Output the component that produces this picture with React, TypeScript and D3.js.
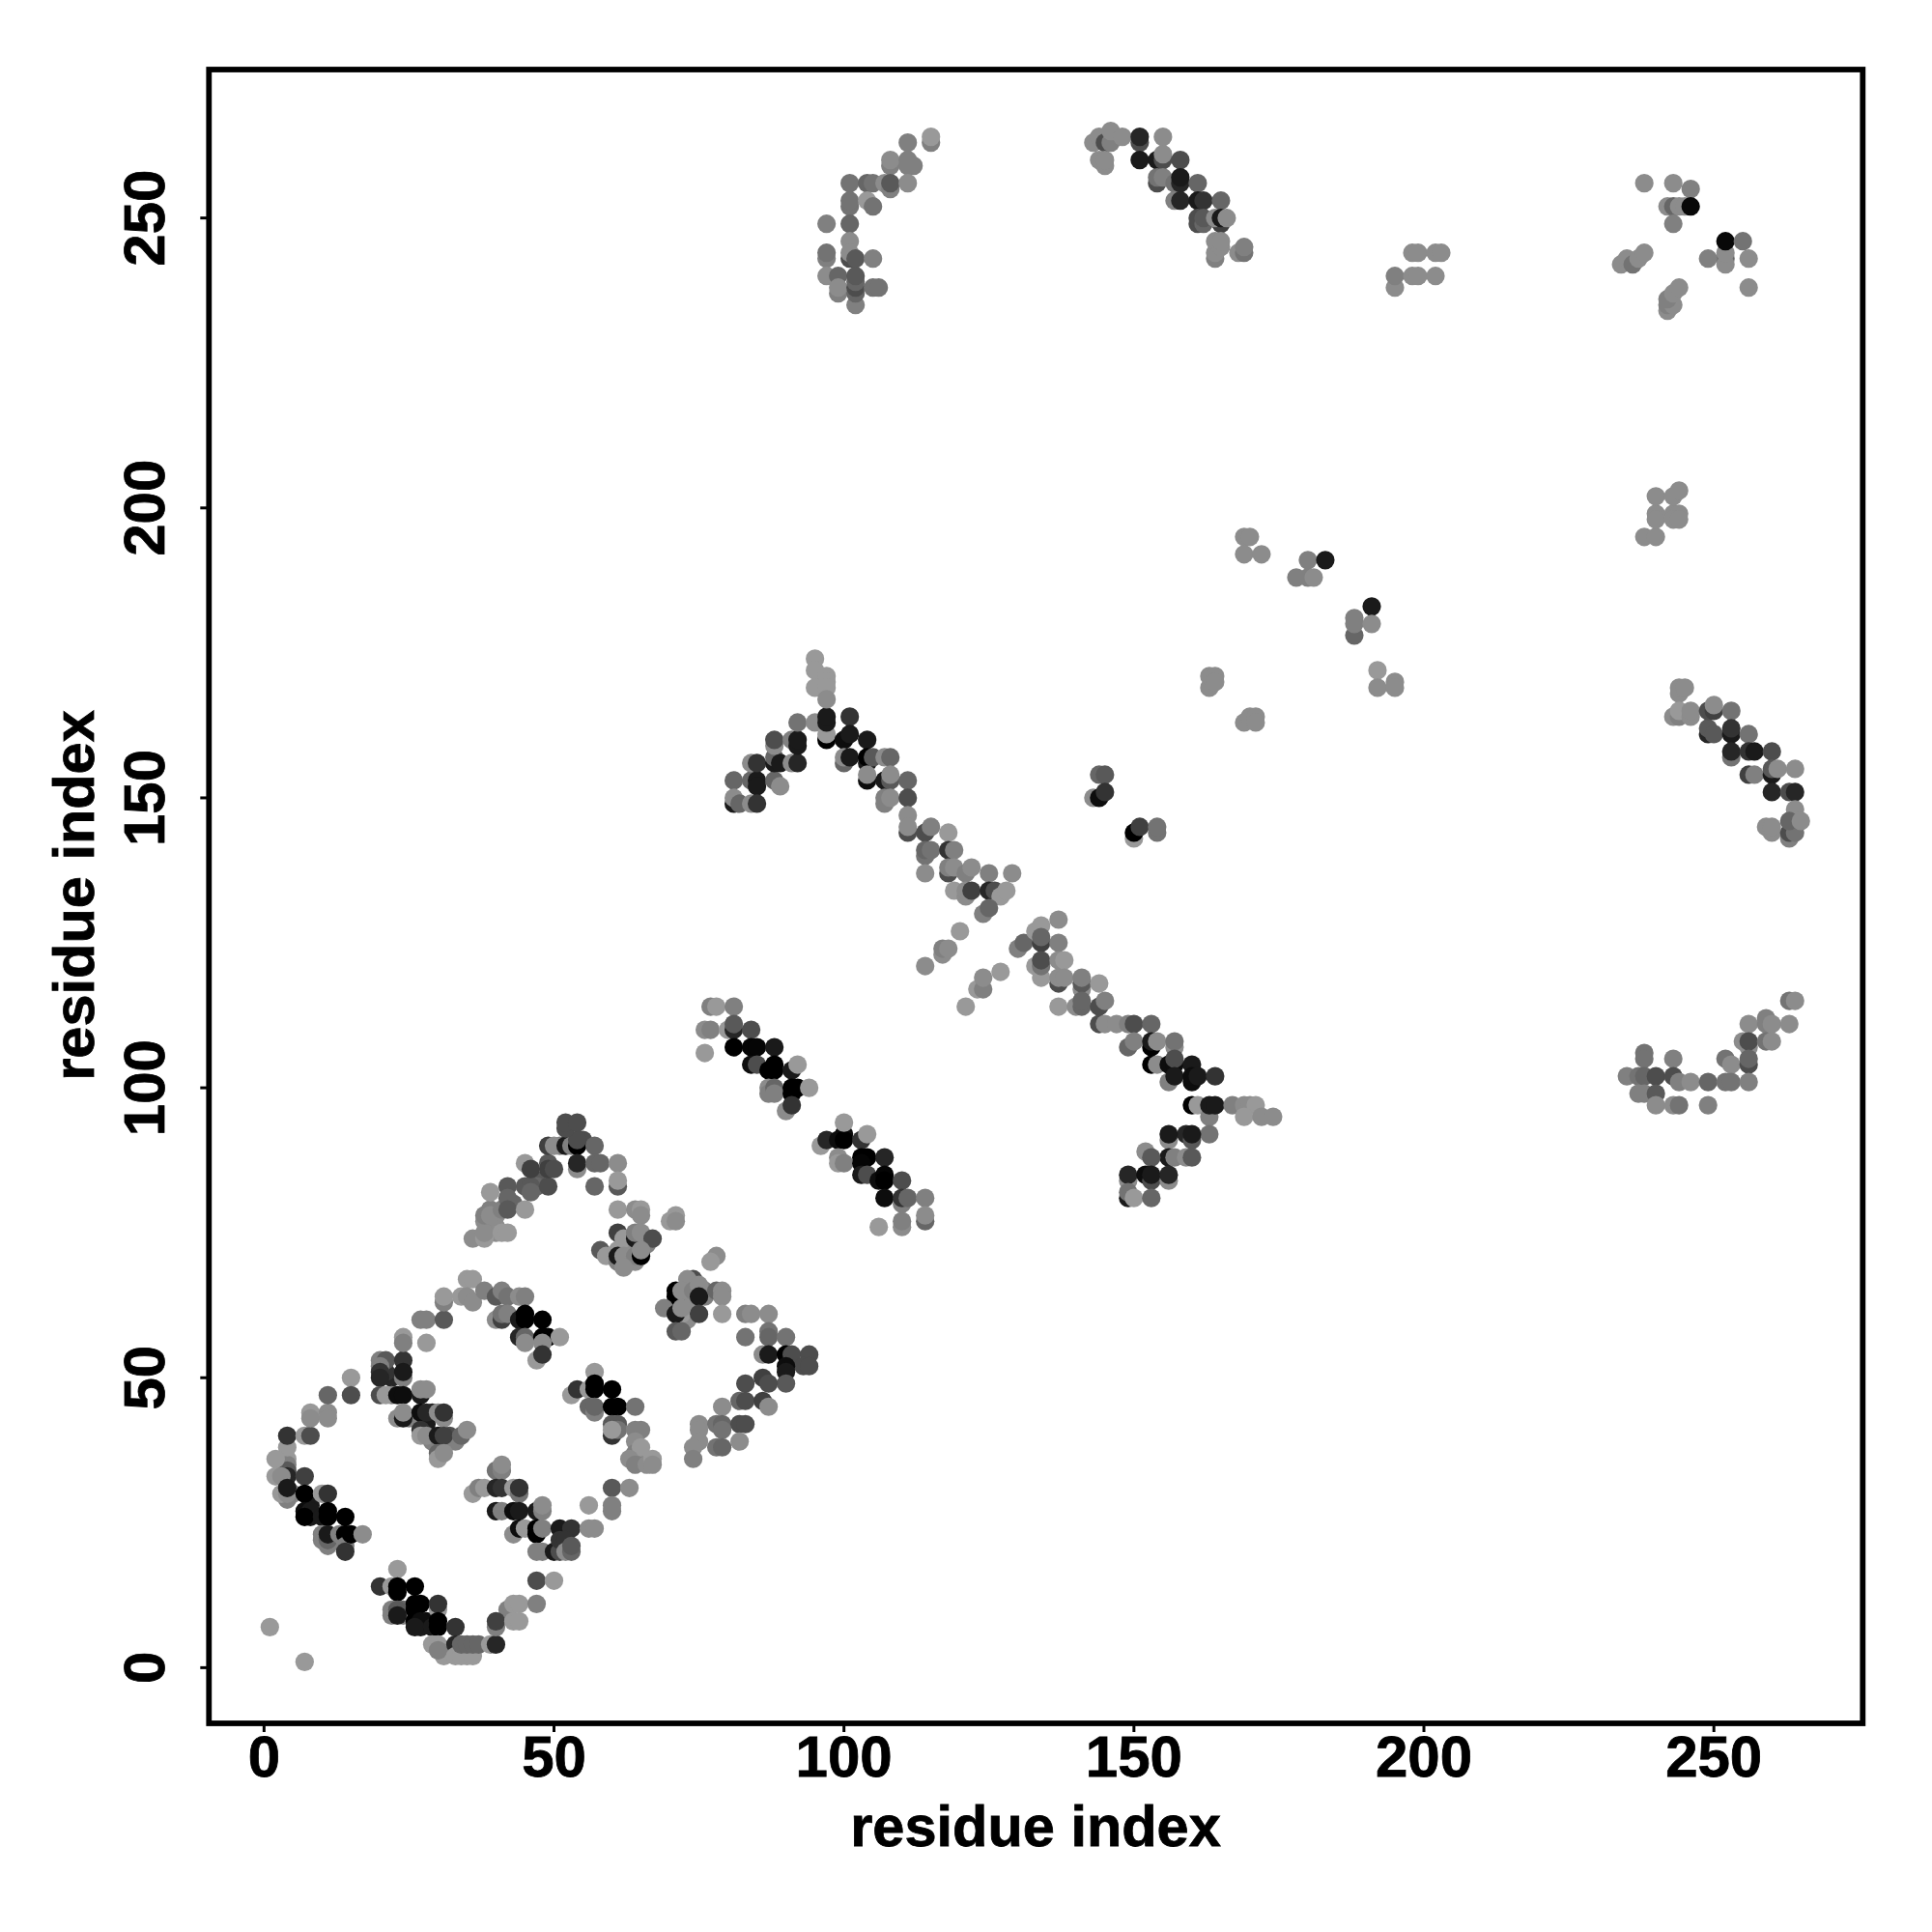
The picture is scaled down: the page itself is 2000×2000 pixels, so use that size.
import React from "react";
import * as d3 from "d3";

type P = [number, number, number];

const xTicks = [0, 50, 100, 150, 200, 250];
const yTicks = [0, 50, 100, 150, 200, 250];
const axisTitle = "residue index";

const isolated: P[] = [[1,7,.6],[7,1,.6]];

const denseUnder: P[] = [
[3,35,.55],[5,30,.55],[4,29,.5],[8,26,.1],[8,28,.1],[12,22,.45],[11,21,.5],[13,22,.5],
[24,10,.4],[24,9,.5],[27,7,.1],[28,8,.05],[32,3,.5],[31,2,.6],[35,2,.6],[33,3,.5],[42,10,.5],
[22,50,.15],[21,51,.2],[22,47,.5],[25,43,.5],[29,44,.15],[28,42,.1],[29,39,.5],[32,40,.3],[33,39,.5],[30,38,.5],
[38,77,.55],[39,79,.5],[40,78,.55],[39,76,.55],[40,76,.55],[40,75,.55],[43,80,.4],[47,84,.35],[47,83,.4],[51,90,.5],[55,91,.3],
[63,73,.5],[63,72,.55],[62,72,.55],[64,70,.55],[61,72,.6],[66,73,.5],[63,70,.55],
[73,64,.55],[73,62,.55],[72,60,.55],[73,60,.55],[72,61,.6],[76,65,.5],[76,64,.5],
[243,199,.55],[244,199,.55],[195,170,.55],[240,199,.55]];

const helixA: P[] = [
[4,36,.6],[4,35,.5],[4,34,.35],[4,33,.15],[4,38,.6],[4,40,.2],[7,40,.6],[8,40,.3],[8,44,.6],[8,43,.55],[11,44,.55],[11,43,.55],
[11,47,.4],[15,50,.6],[15,47,.3],[2,36,.6],[2,33,.6],[3,33,.55],[3,30,.6],[4,30,.55],[4,31,.1],[7,33,.25],
[7,30,0],[10,30,.6],[11,30,.2],[7,27,.05],[8,27,.1],[7,26,0],[10,26,.1],[11,27,0],[11,26,0],[14,26,0],
[10,23,.5],[10,22,.5],[11,22,.4],[11,23,.1],[13,23,.5],[14,23,0],[14,21,.5],[15,23,0],[17,23,.55],[14,20,.2]];

const helixB: P[] = [
[20,14,.2],[23,17,.6],[22,14,.6],[23,14,0],[23,13,0],[26,14,0],
[22,10,.5],[22,9,.5],[23,10,.35],[23,9,.1],[26,11,0],[27,11,0],[26,10,0],[30,10,.6],[30,11,.2],
[26,8,0],[27,8,.05],[26,7,.1],[29,7,.1],[30,8,0],[30,7,0],[33,7,.2],
[29,4,.6],[30,4,.6],[30,3,.5],[33,4,.15],[33,2,.6],[34,2,.6],[36,2,.6],[34,4,.4],[35,4,.4],[36,4,.4],[37,4,.4],[39,4,.6],[40,4,.15],
[40,7,.5],[40,8,.25],[43,11,.6],[44,11,.6],[47,11,.5],[43,8,.6],[44,8,.6],[47,15,.3],[50,15,.6]];

const helixC: P[] = [
[20,53,.5],[21,53,.35],[24,53,.2],[20,52,.5],[20,51,.2],[20,50,.15],[24,50,.5],[24,51,.1],
[24,57,.6],[24,56,.5],[28,56,.6],[27,60,.5],[28,60,.5],[31,60,.35],[31,63,.5],[31,64,.6],
[20,47,.3],[21,47,.6],[23,47,.05],[24,47,.05],[27,47,.1],[27,48,.55],[28,48,.55],
[23,43,.55],[24,43,.1],[24,44,.55],[27,44,.05],[28,44,.15],[30,44,.55],[31,43,.55],[31,44,.2],
[27,41,.2],[27,40,.6],[28,40,.55],[30,40,.1],[31,40,.25],[34,40,.4],[35,41,.55],
[30,37,.4],[30,36,.6],[31,37,.55]];

const helixD: P[] = [
[36,30,.6],[37,31,.5],[38,31,.6],[40,34,.45],[41,34,.5],[41,35,.55],[40,31,.15],[41,31,.2],[43,31,.6],[44,30,.45],[44,31,.2],
[40,27,.1],[41,27,.5],[43,27,.05],[44,27,.1],[47,27,.1],[48,27,.5],[48,28,.55],
[43,23,.55],[44,24,.05],[45,24,.6],[47,24,0],[47,23,0],[48,24,.5],[51,24,.1],[53,24,.2],
[56,28,.6],[56,24,.55],[57,24,.55],[60,31,.35],[60,27,.5],[60,28,.5],[63,31,.55],
[47,20,.5],[48,20,.5],[50,20,.1],[51,20,.3],[51,22,.2],[52,22,.2],[52,20,.55],[53,20,.4],[53,21,.35]];

const helixE: P[] = [
[35,67,.6],[36,67,.6],[34,64,.6],[35,64,.55],[36,63,.55],[38,65,.5],[40,64,.35],[41,65,.5],[42,64,.45],[44,64,.55],[45,64,.5],
[40,60,.55],[41,60,.25],[41,61,.45],[42,61,.5],[44,60,.1],[45,61,0],[45,60,0],[48,60,0],
[44,57,.15],[45,57,.4],[45,56,.55],[48,57,0],[49,57,0],[51,57,.6],[48,56,.55],[47,53,.6],[48,54,.2]];

const helixF: P[] = [
[53,47,.6],[54,48,.2],[57,51,.6],[56,48,.6],[57,49,0],[57,48,0],[60,48,0],
[56,45,.4],[57,44,.5],[57,45,.4],[60,45,0],[61,45,0],[64,45,.45],
[60,42,.35],[61,42,.35],[60,40,.2],[61,41,.45],[60,41,.6],[64,41,.5],[65,41,.5],
[64,39,.55],[64,37,.5],[65,38,.6],[63,36,.55],[64,35,.5],[66,35,.55],[67,36,.6],[67,35,.55]];

const arcG: P[] = [
[36,74,.55],[38,74,.6],[38,75,.55],[41,75,.6],[42,75,.6],[38,78,.5],[39,78,.55],[39,82,.6],
[41,79,.5],[42,83,.35],[42,81,.4],[42,79,.35],[45,79,.6],[45,83,.35],[46,83,.35],[46,82,.4],[49,83,.3],
[45,87,.6],[46,86,.25],[49,87,.35],[49,86,.25],[50,86,.3],
[49,90,.25],[50,90,.55],[52,90,.1],[53,90,.5],[54,90,0],[54,91,.3],[52,93,.3],[52,94,.3],[54,94,.3],[54,86,.55],[54,87,.15],
[57,90,.4],[57,87,.4],[58,87,.4],[61,87,.55],[57,83,.4],[61,83,.35],[61,84,.6]];

const blockH: P[] = [
[61,79,.6],[64,79,.55],[65,79,.6],[65,78,.55],[71,78,.6],[70,77,.6],[71,77,.55],
[61,75,.25],[62,74,.6],[64,74,.1],[64,75,.5],[65,75,.55],[67,74,.3],
[58,72,.35],[59,71,.6],[61,70,.5],[61,71,.1],[62,71,.55],[64,71,.5],[65,71,0],[65,72,.55],[62,69,.55]];

const blockI: P[] = [
[78,71,.55],[77,70,.6],[74,67,.3],[73,67,.55],[71,65,0],[71,64,0],[72,65,.55],[74,65,.5],[75,66,.55],[75,64,.1],[78,65,.4],[79,65,.55],[79,64,.55],
[75,61,.25],[79,61,.6],[69,62,.5],[71,61,.1],[72,62,.55],[71,58,.35],[72,58,.4],
[83,61,.5],[84,61,.55],[87,61,.55]];

const blockJ: P[] = [
[83,57,.45],[87,58,.45],[87,57,.4],[90,57,.45],[86,54,.55],[87,54,.1],[90,54,0],[91,54,.3],[94,54,.3],[93,52,.3],[94,52,.3],
[90,52,.05],[90,51,.1],[90,49,.35],[83,49,.3],[86,50,.25],[87,49,.3],
[82,46,.4],[83,46,.3],[79,45,.55],[86,46,.25],[87,45,.55],
[75,42,.55],[78,42,.45],[79,42,.4],[79,41,.45],[82,42,.3],[83,42,.3],[75,41,.55],[82,39,.55],[78,38,.45],[79,38,.4],[75,39,.55],[74,38,.55],[74,36,.5]];

const strandK: P[] = [
[77,114,.5],[78,114,.6],[81,114,.5],[76,110,.55],[77,110,.5],[80,110,.6],[81,110,.15],[81,111,.35],[84,110,.3],
[76,106,.6],[81,107,0],[84,107,.02],[85,107,.02],[88,107,.1],
[84,104,.05],[85,104,.3],[87,103,0],[88,104,0],[88,103,0],[91,103,.1],[92,104,.6],
[87,100,.55],[87,99,.5],[88,100,.4],[88,99,.5],[91,99,0],[91,100,0],[92,100,0],[94,100,.6],[90,96,.55],[91,97,.2]];

const strandL: P[] = [
[96,90,.6],[97,91,.15],[99,91,.05],[100,92,.05],[100,91,0],[100,94,.6],[103,91,.2],[104,92,.6],
[99,88,.55],[99,87,.6],[100,87,.5],[103,88,0],[104,88,0],[103,87,.02],[107,88,.15],
[103,85,.1],[104,85,.3],[106,84,.05],[107,85,.02],[107,84,0],[110,84,.3],
[107,81,.05],[110,80,.5],[110,81,.2],[111,81,.4],[114,81,.5],
[106,76,.6],[110,76,.55],[110,77,.5],[114,77,.4],[114,78,.55]];

const peakM: P[] = [
[81,153,.4],[84,153,.4],[85,153,.1],[85,152,.1],[88,153,.4],[89,152,.55],
[81,149,.1],[81,150,.55],[82,149,.4],[84,149,.55],[85,149,.2],
[84,156,.55],[85,156,.2],[88,156,.1],[88,157,.4],[89,156,.1],[91,156,.55],[92,156,.15],
[88,159,.55],[88,160,.3],[91,160,.5],[92,159,.1],[92,160,.1],[92,163,.45],
[95,163,.55],[97,160,0],[97,161,.6],[97,163,.1],[97,164,.1],[95,174,.6],[95,172,.6],[97,171,.6],[97,170,.6],[95,169,.6],[97,169,.6],[97,167,.55]];

const descentN: P[] = [
[101,164,.2],[100,160,.05],[101,161,.1],[104,160,.1],[100,156,.4],[100,157,.55],[101,157,.1],
[104,156,.1],[104,157,0],[105,157,.35],[107,157,.55],[108,157,.4],
[104,153,.05],[104,154,.55],[107,153,.1],[108,153,.35],[108,154,.55],[111,153,.4],
[107,149,.5],[107,150,.5],[108,150,.55],[111,150,.3],[111,147,.55],[111,144,.3],[111,145,.55],
[114,144,.3],[115,145,.5],[118,144,.6],[114,140,.45],[114,141,.4],[115,141,.45],[118,141,.2],[119,141,.5],
[114,137,.55],[118,137,.3],[118,138,.5],[119,138,.55],[121,137,.5],[122,138,.55],[125,137,.5],[129,137,.55],
[119,134,.6],[121,133,.55],[121,134,.55],[122,134,.25],[125,134,.15],[126,134,.3],[127,133,.6],[128,134,.6],[124,130,.5],[125,131,.4]];

const crossO: P[] = [
[120,127,.6],[117,123,.55],[117,124,.5],[118,124,.55],[114,121,.55],
[127,120,.6],[123,117,.6],[124,117,.5],[124,119,.55],[121,114,.6]];

const descentP: P[] = [
[130,124,.5],[131,125,.4],[133,127,.6],[134,128,.6],[137,129,.55],[134,125,.25],[134,126,.4],[137,125,.5],
[133,121,.6],[134,119,.6],[134,121,.45],[134,122,.3],[137,122,.55],[138,122,.6],
[137,118,.3],[137,119,.55],[138,119,.55],[141,117,.55],[141,118,.35],[141,119,.5],[144,118,.6],
[137,114,.6],[140,114,.55],[141,114,.4],[141,115,.4],[144,114,.3],[145,115,.5],
[144,111,.3],[145,111,.55],[147,111,.55],[149,111,.5],[150,111,.3],[153,111,.4],
[149,107,.4],[150,108,.5],[153,107,0],[153,108,.1],[154,108,.55],[157,107,.55],[157,108,.45],
[153,104,0],[154,104,.55],[156,104,.05],[157,104,.05],[157,105,.3],[160,104,.1],
[156,101,.5],[157,102,.1],[160,101,.05],[160,102,.05],[161,102,.1],[164,102,.2],
[160,97,0],[161,97,.6],[163,95,.5],[163,97,.1],[164,97,.1],[167,97,.5],[169,97,.55],[170,97,.55],[171,97,.6],[169,95,.6],[172,95,.55],[174,95,.55]];

const vQ: P[] = [
[163,92,.45],[159,92,.15],[160,91,.35],[160,92,.1],[156,91,.55],[156,92,.1],
[156,88,.1],[157,88,.5],[159,88,.55],[160,88,.35],[152,89,.55],[153,88,.35],
[149,84,.55],[149,85,.15],[152,85,.05],[153,84,.3],[153,85,.1],[156,84,.55],[156,85,.15],
[149,81,.1],[149,82,.45],[150,81,.6],[153,81,.4]];

const smallR: P[] = [
[144,154,.4],[145,154,.35],[143,150,.55],[144,150,.05],[145,151,.2],
[150,143,.6],[150,144,0],[151,145,.25],[154,144,.45],[154,145,.45]];

const arcS: P[] = [
[115,263,.5],[115,264,.6],[111,263,.5],[108,259,.5],[108,260,.55],[111,260,.5],[111,259,.5],[112,259,.5],
[101,256,.45],[104,256,.4],[105,256,.45],[107,256,.55],[108,255,.5],[108,256,.35],[111,256,.55],
[101,252,.45],[101,253,.45],[104,253,.6],[105,252,.45],[97,249,.5],[101,249,.4],
[101,246,.55],[97,243,.5],[97,244,.45],[101,243,.3],[101,244,.55],[102,243,.35],[105,243,.5],
[97,240,.55],[99,240,.4],[99,237,.5],[99,238,.55],[102,235,.5],[102,237,.4],[102,238,.3],[102,239,.4],[102,240,.35],[105,238,.45],[106,238,.45]];

const arcT: P[] = [
[143,263,.55],[144,264,.55],[145,263,.3],[146,263,.5],[146,265,.55],[148,264,.55],[144,260,.55],[145,259,.55],[145,260,.55],
[151,263,.3],[151,264,.15],[155,264,.55],[151,260,.1],[154,260,.1],[155,260,.3],[155,261,.55],[158,260,.3],
[154,256,.3],[154,257,.45],[155,257,.5],[157,256,.45],[158,256,.15],[158,257,.1],[161,256,.4],
[157,253,.5],[158,253,.15],[161,253,.1],[162,253,.2],[165,253,.4],
[161,249,.3],[161,250,.3],[162,249,.4],[162,250,.35],[165,249,.25],[164,250,.55],[165,250,.1],[166,250,.55],
[164,243,.5],[164,244,.55],[164,246,.55],[165,245,.55],[165,246,.55],[168,244,.55],[169,244,.45],[169,245,.5]];

const scatteredU: P[] = [
[195,238,.55],[195,240,.5],[198,244,.55],[199,244,.55],[198,240,.55],[199,240,.55],[202,244,.55],[203,244,.55],[202,240,.55],
[169,195,.55],[170,195,.55],[169,192,.55],[172,192,.55],
[178,188,.5],[180,191,.5],[180,188,.5],[181,188,.55],[183,191,.1],
[188,178,.4],[188,181,.5],[188,180,.5],[191,183,.1],[191,180,.55],[192,172,.6],[192,169,.55],[195,169,.55],
[163,169,.55],[163,171,.55],[164,171,.55],[164,170,.55],[169,163,.55],[170,164,.55],[171,164,.55],[171,163,.55],
[238,195,.55],[240,195,.55],[240,198,.55],[240,202,.55],[243,198,.55],[244,198,.55],[243,202,.55],[244,203,.55]];

const cornerV: P[] = [
[238,256,.55],[243,256,.55],[246,255,.5],[242,252,.55],[243,252,.4],[244,252,.55],[245,252,.55],[246,252,.03],[243,249,.5],
[252,243,.4],[252,242,.55],[252,244,.55],[252,246,.03],[255,246,.45],[249,243,.5],[256,243,.55],[256,238,.55],
[234,242,.55],[235,243,.55],[236,242,.45],[237,243,.55],[238,244,.55],
[242,234,.55],[242,235,.5],[243,235,.55],[242,236,.5],[243,237,.55],[244,238,.55]];

const arcW: P[] = [
[244,168,.55],[244,169,.55],[245,169,.55],[243,164,.55],[244,164,.5],[244,165,.6],[246,164,.55],[246,165,.55],
[249,161,.15],[249,162,.35],[250,161,.35],[249,165,.3],[250,165,.25],[250,166,.55],[253,165,.45],[253,161,.1],[253,162,.2],[256,161,.45],
[253,157,.45],[253,158,.15],[256,158,.2],[257,158,.1],[260,158,.3],
[256,154,.25],[257,154,.5],[260,154,.1],[260,155,.35],[261,155,.55],[264,155,.55],
[260,151,.15],[263,151,.3],[264,151,.15],[264,148,.55],[259,145,.55],[260,144,.55],[260,145,.55],
[263,143,.5],[263,144,.3],[264,144,.45],[263,146,.4],[265,146,.55]];

const arcX: P[] = [
[263,115,.45],[264,115,.55],[259,112,.5],[256,111,.55],[259,111,.5],[260,111,.55],[263,111,.55],
[255,108,.55],[256,107,.55],[256,108,.3],[259,108,.45],[260,108,.55],
[252,105,.45],[253,104,.55],[256,104,.3],[256,105,.4],
[238,106,.45],[238,105,.45],[243,105,.5],
[235,102,.5],[237,102,.45],[238,102,.4],[240,102,.3],[243,102,.3],[244,101,.5],[246,101,.55],[249,101,.4],[252,101,.45],[253,101,.45],[256,101,.5],
[237,99,.5],[238,99,.5],[240,99,.35],[240,97,.55],[243,97,.55],[244,97,.45],[249,97,.5]];

const allPoints: P[] = [
  ...denseUnder, ...isolated, ...helixA, ...helixB, ...helixC, ...helixD, ...helixE, ...helixF, ...arcG, ...blockH, ...blockI, ...blockJ,
  ...strandK, ...strandL, ...peakM, ...descentN, ...crossO, ...descentP, ...vQ, ...smallR, ...arcS, ...arcT, ...scatteredU,
  ...cornerV, ...arcW, ...arcX,
];

const W = 2000, H = 2000;
const L = 216.3, R = 1928.3, T = 72, B = 1784;
const FONT = '"Liberation Sans", Arial, sans-serif';

export default function App() {
  const x = d3.scaleLinear().domain([-9.5, 275.67]).range([L, R]);
  const y = d3.scaleLinear().domain([-9.6, 275.6]).range([B, T]);
  const gray = (g: number) => d3.rgb(g * 255, g * 255, g * 255).formatHex();
  const bold = { fontFamily: FONT, fontWeight: "bold", stroke: "#000", strokeWidth: 0.8 } as const;
  return (
    <svg width={W} height={H} viewBox={`0 0 ${W} ${H}`} style={{ position: "absolute", left: 0, top: 0, background: "#fff" }}>
      {allPoints.map(([a, b, g], i) => (
        <circle key={i} cx={x(a)} cy={y(b)} r={9.6} fill={gray(g)} />
      ))}
      <rect x={L} y={T} width={R - L} height={B - T} fill="none" stroke="#000" strokeWidth={5.8} />
      {xTicks.map((t) => (
        <g key={t}>
          <line x1={x(t)} x2={x(t)} y1={B} y2={B + 9} stroke="#000" strokeWidth={3} />
          <text x={x(t)} y={1839} textAnchor="middle" fontSize={60} {...bold}>{t}</text>
        </g>
      ))}
      {yTicks.map((t) => (
        <g key={t}>
          <line x1={L - 9} x2={L} y1={y(t)} y2={y(t)} stroke="#000" strokeWidth={3} />
          <text transform={`translate(170,${y(t)}) rotate(-90)`} textAnchor="middle" fontSize={60} {...bold}>{t}</text>
        </g>
      ))}
      <text x={1072} y={1911} textAnchor="middle" fontSize={59.5} {...bold}>{axisTitle}</text>
      <text transform="translate(97,927) rotate(-90)" textAnchor="middle" fontSize={59.5} {...bold}>{axisTitle}</text>
    </svg>
  );
}
